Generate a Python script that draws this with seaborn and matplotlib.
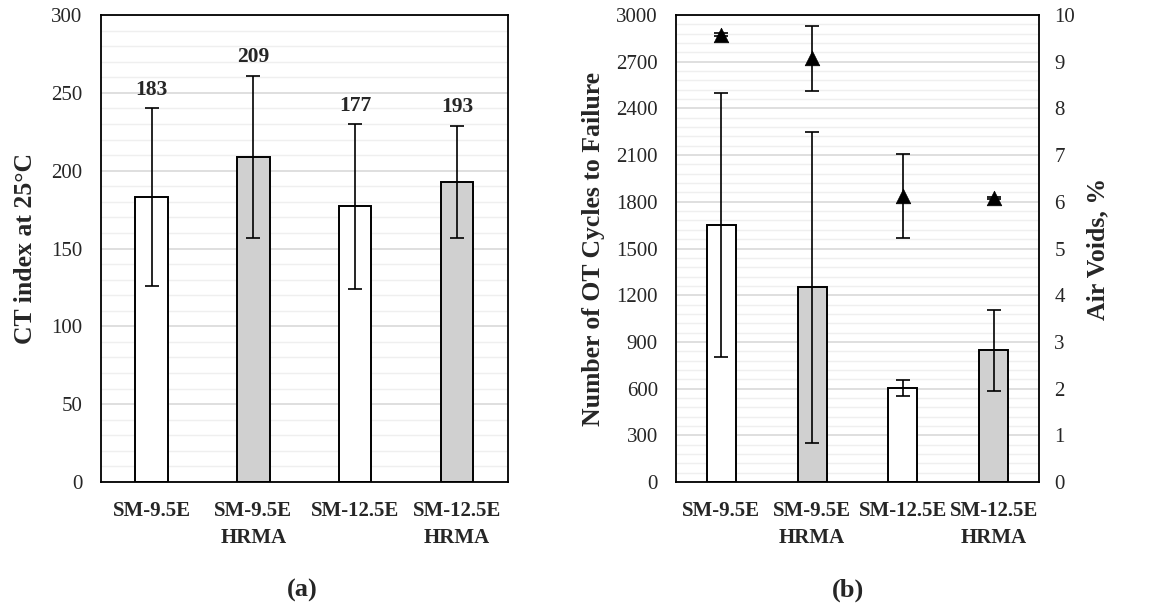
import numpy as np
import pandas as pd
import matplotlib
matplotlib.use("Agg")
import matplotlib.pyplot as plt
import seaborn as sns
from matplotlib.ticker import MultipleLocator

# ---- data ----
categories = ["SM-9.5E", "SM-9.5E\nHRMA", "SM-12.5E", "SM-12.5E\nHRMA"]
ct_index = [183, 209, 177, 193]
ct_err = [57, 52, 53, 36]
ot_cycles = [1650, 1250, 605, 845]
ot_err = [850, 1000, 52, 260]
air_voids = [9.58, 9.07, 6.12, 6.08]
air_err = [0.03, 0.7, 0.9, 0.03]
bar_colors = ["#ffffff", "#d0d0d0", "#ffffff", "#d0d0d0"]

sns.set_theme(style="white")
plt.rcParams["font.family"] = ["Liberation Serif", "DejaVu Serif"]

fig = plt.figure(figsize=(11.61, 6.07), dpi=100)
axL = fig.add_axes([0.0867, 0.2059, 0.3508, 0.7694])
axR = fig.add_axes([0.5823, 0.2059, 0.3127, 0.7694])

df_ct = pd.DataFrame({"cat": categories, "val": ct_index})
df_ot = pd.DataFrame({"cat": categories, "val": ot_cycles})

TICK_FS = 15
YLAB_FS = 18.5
DATA_FS = 15.5


def style_axis(ax, major, minor, top):
    ax.set_xlim(-0.5, len(categories) - 0.5)
    ax.set_ylim(0, top)
    ax.yaxis.set_major_locator(MultipleLocator(major))
    ax.yaxis.set_minor_locator(MultipleLocator(minor))
    ax.grid(True, which="major", axis="y", color="#d9d9d9", linewidth=1.2)
    ax.grid(True, which="minor", axis="y", color="#efefef", linewidth=1.0)
    ax.grid(False, axis="x")
    ax.set_axisbelow(True)
    for s in ax.spines.values():
        s.set_color("black")
        s.set_linewidth(1.3)
    ax.tick_params(axis="both", which="both", length=0)
    ax.tick_params(axis="y", labelsize=TICK_FS, pad=13)
    ax.tick_params(axis="x", labelsize=TICK_FS, pad=14)
    for lbl in ax.get_xticklabels():
        lbl.set_fontweight("bold")
        lbl.set_linespacing(1.45)
    ax.set_xlabel("")


# ---- panel (a) ----
sns.barplot(data=df_ct, x="cat", y="val", hue="cat", palette=bar_colors,
            legend=False, width=0.32, edgecolor="black", linewidth=1.4,
            errorbar=None, ax=axL)
axL.errorbar(range(len(categories)), ct_index, yerr=ct_err, fmt="none",
             ecolor="black", elinewidth=1.2, capsize=5, capthick=1.2, zorder=5)
for i, (v, e) in enumerate(zip(ct_index, ct_err)):
    axL.annotate(str(v), (i, v + e), xytext=(0, 6), textcoords="offset points",
                 ha="center", va="bottom", fontsize=DATA_FS, fontweight="bold")
style_axis(axL, 50, 10, 300)
axL.set_ylabel("CT index at 25°C", fontsize=YLAB_FS, fontweight="bold", labelpad=10)

# ---- panel (b) ----
sns.barplot(data=df_ot, x="cat", y="val", hue="cat", palette=bar_colors,
            legend=False, width=0.32, edgecolor="black", linewidth=1.4,
            errorbar=None, ax=axR)
axR.errorbar(range(len(categories)), ot_cycles, yerr=ot_err, fmt="none",
             ecolor="black", elinewidth=1.2, capsize=5, capthick=1.2, zorder=5)
style_axis(axR, 300, 60, 3000)
axR.set_ylabel("Number of OT Cycles to Failure", fontsize=YLAB_FS,
               fontweight="bold", labelpad=8)

axR2 = axR.twinx()
axR2.errorbar(range(len(categories)), air_voids, yerr=air_err, fmt="none",
              ecolor="black", elinewidth=1.2, capsize=5, capthick=1.2, zorder=5)
sns.scatterplot(x=list(range(len(categories))), y=air_voids, marker="^",
                color="black", s=110, edgecolor="black", linewidth=0.5,
                zorder=7, ax=axR2)
axR2.set_xlim(-0.5, len(categories) - 0.5)
axR2.set_ylim(0, 10)
axR2.yaxis.set_major_locator(MultipleLocator(1))
axR2.tick_params(axis="y", length=0, labelsize=TICK_FS, pad=11)
axR2.grid(False)
for s in axR2.spines.values():
    s.set_visible(False)
axR2.set_ylabel("Air Voids, %", fontsize=YLAB_FS, fontweight="bold", labelpad=8)

fig.text(0.260, 0.028, "(a)", ha="center", va="center", fontsize=19, fontweight="bold")
fig.text(0.730, 0.028, "(b)", ha="center", va="center", fontsize=19, fontweight="bold")

fig.savefig("out.png", dpi=100, facecolor="white")
